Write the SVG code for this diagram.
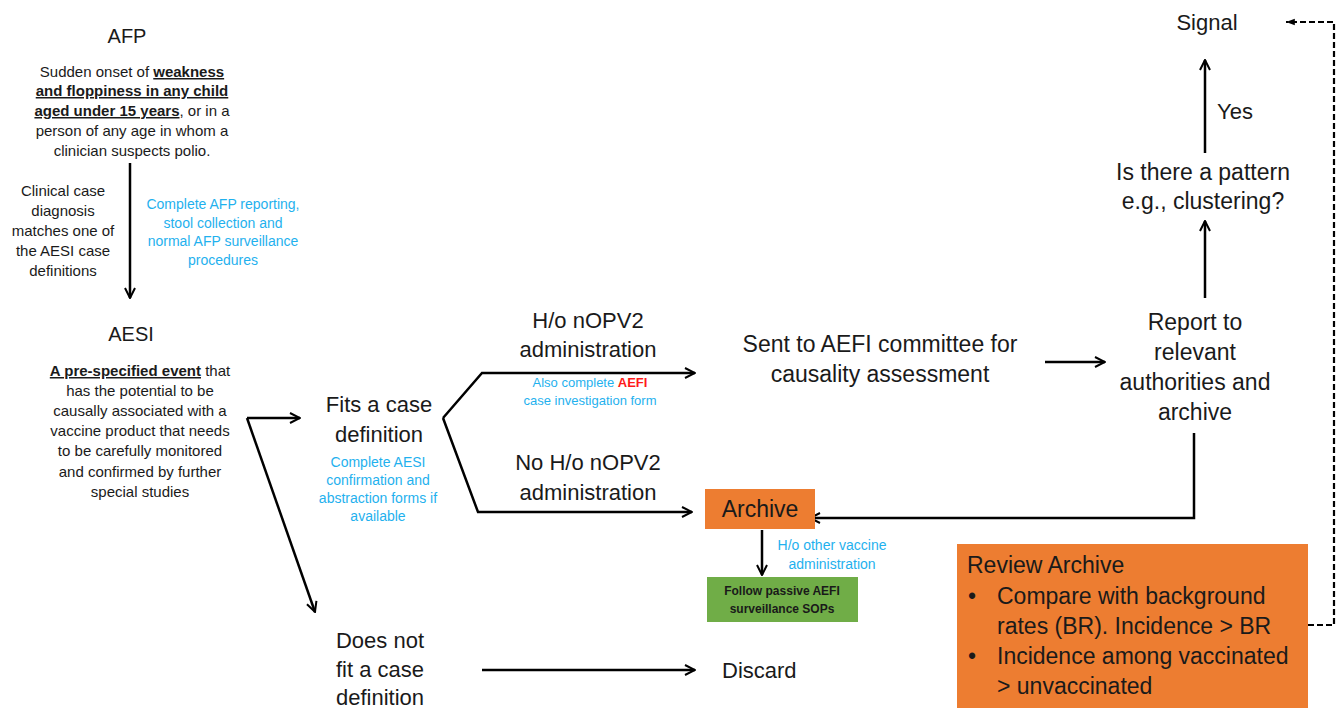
<svg xmlns="http://www.w3.org/2000/svg" width="1341" height="708" viewBox="0 0 1341 708">
<style>
text{font-family:"Liberation Sans",Arial,sans-serif;fill:#1a1a1a}
.h{font-size:22px}
.h3{font-size:23px}
.b{font-size:15px}
.s{font-size:14px;fill:#1FB1EE}
.c{text-anchor:middle}
.u{font-weight:bold;text-decoration:underline}
.ln{stroke:#000;stroke-width:2.5;fill:none}
.dash{stroke:#000;stroke-width:2.2;fill:none;stroke-dasharray:6 3}
</style>
<defs>
<marker id="ah" viewBox="0 0 10 10" refX="9" refY="5" markerWidth="5" markerHeight="5" orient="auto" markerUnits="strokeWidth">
<polyline points="1,1 9,5 1,9" fill="none" stroke="#000" stroke-width="1.6"/>
</marker>
<marker id="ahd" viewBox="0 0 10 10" refX="9" refY="5" markerWidth="5" markerHeight="5" orient="auto" markerUnits="strokeWidth">
<path d="M1,2 L9,5 L1,8 Z" fill="#000"/>
</marker>
</defs>

<g id="connectors">
<line class="ln" x1="130" y1="163" x2="130" y2="298" marker-end="url(#ah)"/>
<polyline class="ln" points="247,418 315,612" marker-end="url(#ah)"/>
<line class="ln" x1="247" y1="418" x2="300" y2="418" marker-end="url(#ah)"/>
<polyline class="ln" points="443,418 482,373 695,373" marker-end="url(#ah)"/>
<polyline class="ln" points="443,418 478,512 692,512" marker-end="url(#ah)"/>
<line class="ln" x1="1045" y1="362" x2="1105" y2="362" marker-end="url(#ah)"/>
<line class="ln" x1="1205" y1="298" x2="1205" y2="221" marker-end="url(#ah)"/>
<line class="ln" x1="1205" y1="153" x2="1205" y2="60" marker-end="url(#ah)"/>
<polyline class="ln" points="1194,433 1194,518 810,518" marker-end="url(#ah)"/>
<line class="ln" x1="762" y1="530" x2="762" y2="575" marker-end="url(#ah)"/>
<line class="ln" x1="482" y1="670" x2="695" y2="670" marker-end="url(#ah)"/>
<polyline class="dash" points="1308,625 1334,625 1334,22 1286,22" marker-end="url(#ahd)"/>
</g>

<g id="afp">
<text class="c" x="127" y="43" style="font-size:20px">AFP</text>
<text class="b c" x="132" y="77">Sudden onset of <tspan class="u">weakness</tspan></text>
<text class="b c u" x="132" y="96">and floppiness in any child</text>
<text class="b c" x="132" y="116"><tspan class="u">aged under 15 years</tspan>, or in a</text>
<text class="b c" x="132" y="136">person of any age in whom a</text>
<text class="b c" x="132" y="156">clinician suspects polio.</text>
</g>

<g id="afp-label">
<text class="b c" x="63" y="196">Clinical case</text>
<text class="b c" x="63" y="216">diagnosis</text>
<text class="b c" x="63" y="236">matches one of</text>
<text class="b c" x="63" y="256">the AESI case</text>
<text class="b c" x="63" y="276">definitions</text>
<text class="s c" x="223" y="209">Complete AFP reporting,</text>
<text class="s c" x="223" y="228">stool collection and</text>
<text class="s c" x="223" y="246">normal AFP surveillance</text>
<text class="s c" x="223" y="265">procedures</text>
</g>

<g id="aesi">
<text class="c" x="131" y="341" style="font-size:20px">AESI</text>
<text class="b c" x="140" y="376"><tspan class="u">A pre-specified event</tspan> that</text>
<text class="b c" x="140" y="396">has the potential to be</text>
<text class="b c" x="140" y="416">causally associated with a</text>
<text class="b c" x="140" y="436">vaccine product that needs</text>
<text class="b c" x="140" y="456">to be carefully monitored</text>
<text class="b c" x="140" y="477">and confirmed by further</text>
<text class="b c" x="140" y="497">special studies</text>
</g>

<g id="fits">
<text class="h c" x="379" y="412">Fits a case</text>
<text class="h c" x="379" y="442">definition</text>
<text class="s c" x="378" y="467">Complete AESI</text>
<text class="s c" x="378" y="485">confirmation and</text>
<text class="s c" x="378" y="503">abstraction forms if</text>
<text class="s c" x="378" y="521">available</text>
</g>

<g id="ho-nopv2">
<text class="h c" x="588" y="328">H/o nOPV2</text>
<text class="h c" x="588" y="357">administration</text>
<text class="c" x="590" y="387" style="font-size:13px;fill:#1FB1EE">Also complete <tspan style="fill:#FF1A1A;font-weight:bold">AEFI</tspan></text>
<text class="c" x="590" y="405" style="font-size:13px;fill:#1FB1EE">case investigation form</text>
</g>

<g id="no-ho-nopv2">
<text class="h c" x="588" y="470">No H/o nOPV2</text>
<text class="h c" x="588" y="500">administration</text>
</g>

<g id="sent-aefi">
<text class="h3 c" x="880" y="352">Sent to AEFI committee for</text>
<text class="h3 c" x="880" y="382">causality assessment</text>
</g>

<g id="report">
<text class="h3 c" x="1195" y="330">Report to</text>
<text class="h3 c" x="1195" y="360">relevant</text>
<text class="h3 c" x="1195" y="390">authorities and</text>
<text class="h3 c" x="1195" y="420">archive</text>
</g>

<g id="pattern">
<text class="h3 c" x="1203" y="180">Is there a pattern</text>
<text class="h3 c" x="1203" y="209">e.g., clustering?</text>
<text class="h" x="1217" y="119">Yes</text>
</g>

<g id="signal">
<text class="h c" x="1207" y="30">Signal</text>
</g>

<g id="archive">
<rect x="705" y="489" width="110" height="40" fill="#ED7D31"/>
<text class="h3 c" x="760" y="517">Archive</text>
<text class="s c" x="832" y="550">H/o other vaccine</text>
<text class="s c" x="832" y="569">administration</text>
</g>

<g id="passive">
<rect x="707" y="577" width="151" height="45" fill="#70AD47"/>
<text class="c" x="782" y="595" style="font-size:12px;font-weight:bold">Follow passive AEFI</text>
<text class="c" x="782" y="613" style="font-size:12px;font-weight:bold">surveillance SOPs</text>
</g>

<g id="not-fit">
<text class="h c" x="380" y="648">Does not</text>
<text class="h c" x="380" y="677">fit a case</text>
<text class="h c" x="380" y="705">definition</text>
</g>

<g id="discard">
<text class="h" x="722" y="678">Discard</text>
</g>

<g id="review">
<rect x="957" y="544" width="351" height="164" fill="#ED7D31"/>
<text class="h3" x="967" y="573">Review Archive</text>
<text class="h3" x="968" y="604">•</text>
<text class="h3" x="997" y="604">Compare with background</text>
<text class="h3" x="997" y="634">rates (BR). Incidence &gt; BR</text>
<text class="h3" x="968" y="664">•</text>
<text class="h3" x="997" y="664">Incidence among vaccinated</text>
<text class="h3" x="997" y="694">&gt; unvaccinated</text>
</g>
</svg>
